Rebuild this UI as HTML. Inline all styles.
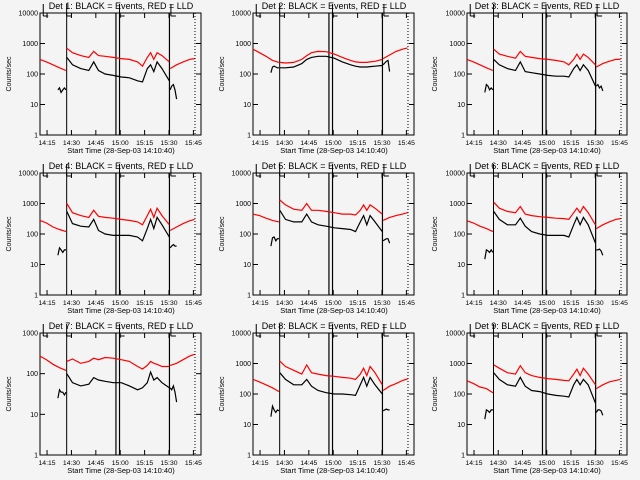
<!DOCTYPE html>
<html><head><meta charset="utf-8"><style>
html,body{margin:0;padding:0;background:#f4f4f4}
svg{display:block;font-family:"Liberation Sans",sans-serif}
</style></head><body>
<svg id="chart" width="640" height="480" viewBox="0 0 640 480"></svg>
<script>
// shared times (minutes since 14:10:40)
const redTimes = [0,4,8,12,16, 16.5,20,25,30,33,36,40,45,50,55,60,63,66,68,70,72,75,79.5, 80,84,88,92,95];
const blackTimes = [11,12,13,14,15,16, 16.5,20,25,30,33,36,40,45,50,55,60,63,66,68,70,72,75,79.5, 80,81,82,83,84];
const xTickLabels = ["14:15","14:30","14:45","15:00","15:15","15:30","15:45"];
const xTickTimes = [4.33,19.33,34.33,49.33,64.33,79.33,94.33];
const detNames = ["1","2","3","4","5","6","7","8","9"];
const yMaxDecades = [4,4,4,4,4,4,3,4,4];
const red1=[300,250,200,160,130, 700,500,400,350,550,400,380,350,320,300,250,180,350,500,300,500,400,250, 150,200,250,300,320];
const black1=[30,35,25,30,35,30, 350,200,150,130,250,130,100,90,80,75,60,55,150,200,120,250,150,60, 30,40,45,30,15];
const red2=[650,500,380,280,240, 240,230,240,300,400,500,550,540,450,350,280,250,240,240,240,250,260,300, 320,420,550,650,720];
const black2=[110,170,180,170,160,160, 160,160,170,220,300,350,380,380,330,250,200,180,170,170,170,175,180,190, 200,230,260,280,120];
const red3=[300,250,200,160,130, 650,450,380,330,550,380,350,320,300,280,250,200,300,450,300,450,350,200, 170,220,260,300,300];
const black3=[25,45,40,30,35,30, 300,200,150,130,250,120,110,100,90,85,85,80,150,200,130,200,130,40, 40,45,35,40,28];
const red4=[280,230,170,140,120, 1000,500,400,350,600,380,350,330,300,280,250,200,400,650,350,700,400,200, 130,170,220,270,300];
const black4=[20,35,30,25,30,30, 550,220,180,170,300,130,100,90,90,90,80,60,150,300,150,350,200,80, 35,40,45,40,40];
const red5=[450,400,330,280,250, 1300,900,650,600,1000,600,600,550,500,450,450,420,600,900,600,900,700,450, 280,350,400,450,500];
const black5=[40,75,80,60,70,70, 600,300,250,250,450,250,200,180,160,150,140,120,250,400,200,400,250,120, 60,65,70,70,50];
const red6=[270,230,180,150,120, 1100,700,550,500,800,450,400,370,350,330,320,300,500,700,500,800,500,200, 150,200,250,300,320];
const black6=[15,30,28,25,30,25, 550,300,200,200,330,180,120,100,90,90,90,80,200,350,200,350,200,50, 30,30,32,28,20];
const red7=[270,220,170,140,120, 200,230,180,200,240,220,250,240,220,200,150,130,160,200,180,170,150,150, 160,180,220,270,300];
const black7=[25,40,35,35,30,35, 100,60,50,55,80,70,65,60,60,50,40,45,60,110,70,80,60,45, 45,40,50,35,20];
const red8=[300,250,200,160,120, 1200,800,600,450,900,500,450,400,380,350,330,300,450,700,400,800,500,200, 130,180,220,280,310];
const black8=[18,40,30,25,30,28, 500,300,200,200,300,180,130,110,100,100,95,90,200,350,180,350,200,100, 28,30,32,30,30];
const red9=[270,220,170,150,110, 900,700,500,450,850,500,400,350,320,300,280,270,450,650,400,700,450,200, 150,200,250,280,300];
const black9=[15,30,28,25,30,30, 500,300,200,180,350,180,130,120,100,90,85,80,200,300,200,300,200,50, 25,30,30,28,20];
const redSeries=[red1,red2,red3,red4,red5,red6,red7,red8,red9];
const blackSeries=[black1,black2,black3,black4,black5,black6,black7,black8,black9];

const NS="http://www.w3.org/2000/svg";
const svg=document.getElementById("chart");
function mk(tag,attrs,parent){const e=document.createElementNS(NS,tag);for(const k in attrs)e.setAttribute(k,attrs[k]);parent.appendChild(e);return e;}

for(let p=0;p<9;p++){
  const col=p%3,row=Math.floor(p/3);
  const ox=col*213,oy=row*160;
  const L=ox+(col==2?41:40),R=ox+201,T=oy+13,B=oy+135;
  const dec=yMaxDecades[p];
  const xs=t=>L+t*(R-L)/99;
  const ys=v=>B-Math.log10(v)*(B-T)/dec;
  const g=mk("g",{},svg);
  
  
  const ti=mk("text",{x:ox+121,y:oy+9,"font-size":"9","text-anchor":"middle",fill:"#000"},g);
  ti.textContent="Det "+detNames[p]+": BLACK = Events, RED = LLD";
  
  
  const yl=mk("text",{x:0,y:0,"font-size":"7","text-anchor":"middle",transform:`translate(${ox+11},${oy+74}) rotate(-90)`},g);
  yl.textContent="Counts/sec";
  
  
  const xl=mk("text",{x:ox+121,y:oy+153,"font-size":"7.5","text-anchor":"middle"},g);
  xl.textContent="Start Time (28-Sep-03 14:10:40)";
  
  
  for(let d=0;d<=dec;d++){
    const y=ys(Math.pow(10,d));
    mk("line",{x1:L,x2:L+5,y1:y,y2:y,stroke:"#000"},g);
    mk("line",{x1:R-5,x2:R,y1:y,y2:y,stroke:"#000"},g);
    const tl=mk("text",{x:L-2,y:y+2.5,"font-size":"7","text-anchor":"end"},g);
    tl.textContent=String(Math.pow(10,d));
    
    
  }
  for(let i=0;i<xTickTimes.length;i++){
    const x=xs(xTickTimes[i]);
    mk("line",{x1:x,x2:x,y1:B,y2:B-5,stroke:"#000"},g);
    mk("line",{x1:x,x2:x,y1:T,y2:T+5,stroke:"#000"},g);
    const tl=mk("text",{x:x,y:B+10,"font-size":"6.8","text-anchor":"middle"},g);
    tl.textContent=xTickLabels[i];
    
    
  }
  mk("line",{x1:xs(95.3),x2:xs(95.3),y1:T,y2:B,stroke:"#000","stroke-dasharray":"1,2"},g);
  [46.7,48.9,79.6].forEach(t=>{mk("line",{x1:xs(t),x2:xs(t),y1:T,y2:B,stroke:"#000","stroke-width":"1.2"},g);});
  mk("line",{x1:xs(16.4),x2:xs(16.4),y1:T,y2:B,stroke:"#000","stroke-width":"1"},g);
  [2,16.4,48.9,80.5].forEach(t=>{
    const x=xs(t);
    mk("path",{d:`M${x},${oy+4} V${oy+16} M${x},${oy+16} H${x+5}`,stroke:"#000",fill:"none"},g);
  });
  mk("rect",{x:L,y:T,width:R-L,height:B-T,fill:"none",stroke:"#000"},g);
  const rv=redSeries[p],bv=blackSeries[p];
  [[0,5],[5,23],[23,28]].forEach(([a,b])=>{
    let d="";for(let i=a;i<b;i++)d+=(i==a?"M":"L")+xs(redTimes[i]).toFixed(1)+","+ys(rv[i]).toFixed(1);
    const pl=mk("path",{d,stroke:"#ff0000",fill:"none","stroke-width":"1.2"},g);
    
    
  });
  [[0,6],[6,24],[24,29]].forEach(([a,b])=>{
    let d="";for(let i=a;i<b;i++)d+=(i==a?"M":"L")+xs(blackTimes[i]).toFixed(1)+","+ys(bv[i]).toFixed(1);
    const pl=mk("path",{d,stroke:"#000",fill:"none","stroke-width":"1.2"},g);
    
    
  });
}
</script>
</body></html>
